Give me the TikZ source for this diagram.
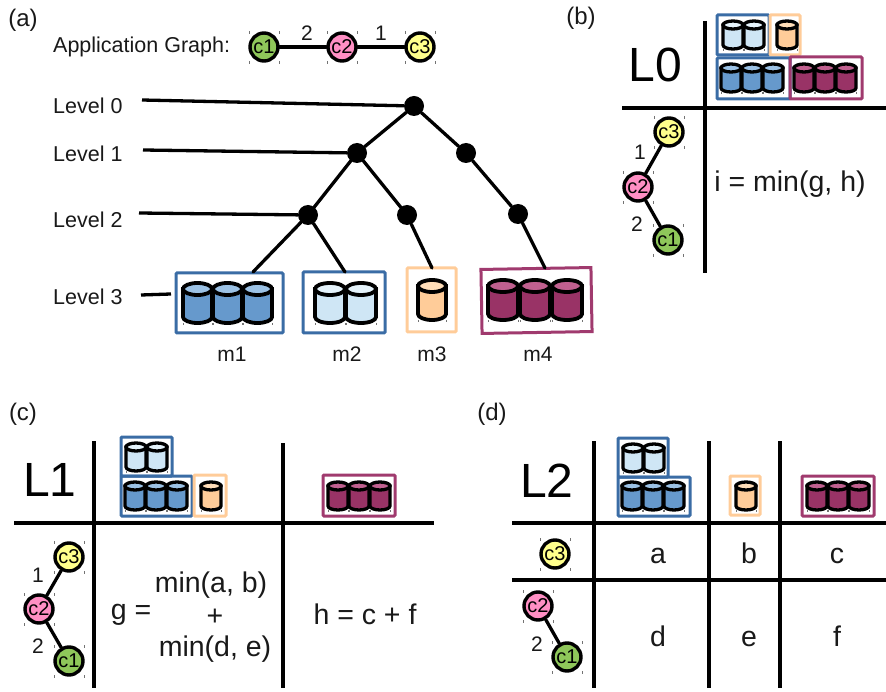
\documentclass[tikz,border=0pt]{standalone}
\usepackage{fontspec}
\setmainfont{Liberation Sans}
\definecolor{cblue}{HTML}{6699CC}\definecolor{tblue}{HTML}{9CC2E5}
\definecolor{clight}{HTML}{CFE6F5}\definecolor{tlight}{HTML}{E4F2FA}
\definecolor{corange}{HTML}{FFCC99}\definecolor{torange}{HTML}{FFDDB8}
\definecolor{cmaroon}{HTML}{993366}\definecolor{tmaroon}{HTML}{C0608F}
\definecolor{bblue}{HTML}{3A6CA5}\definecolor{borange}{HTML}{FFCC99}\definecolor{bmaroon}{HTML}{A03A6E}
\definecolor{cgreen}{HTML}{8FC75A}\definecolor{cpink}{HTML}{FF8FC4}\definecolor{cyellow}{HTML}{FFFF8C}
\tikzset{
  x=1pt,y=-1pt,
  wire/.style={line width=3.3pt,line cap=round,black},
  rule/.style={line width=3.1pt,black},
  dot/.style={circle,fill=black,minimum size=20pt,inner sep=0pt},
  lab/.style={inner sep=0pt,font=\fontsize{21.5}{22}\selectfont,text=black!90},
  small/.style={inner sep=0pt,font=\fontsize{21}{21}\selectfont,text=black!90},
  big/.style={inner sep=0pt,font=\fontsize{48}{48}\selectfont},
  eq/.style={inner sep=0pt,font=\fontsize{28.5}{29}\selectfont,text=black!90},
  panel/.style={inner sep=0pt,font=\fontsize{24}{24}\selectfont,text=black!90},
  tick/.style={line width=0.6pt,black!55},
  comp/.style={circle,draw=black,line width=3.4pt,minimum size=28pt,inner sep=0pt,font=\fontsize{20}{20}\selectfont},
}
% box: name, x1, y1, x2, y2, colour, width
\newcommand{\bx}[7]{%
  \pgfmathsetmacro{\bw}{#4-#2}\pgfmathsetmacro{\bh}{#5-#3}%
  \node[draw=#6,line width=#7pt,rounded corners=1pt,minimum width=\bw pt,minimum height=\bh pt,inner sep=0pt] (#1) at ({(#2+#4)/2},{(#3+#5)/2}) {};}
% cylinder: x1, x2, y1, y2, colour, line width, ellipse half-height
\newcommand{\cyl}[7]{%
  \pgfmathsetmacro{\rx}{(#2-(#1))/2}%
  \draw[line width=#6pt,fill=c#5] ({#1},{#3+#7}) -- ({#1},{#4-#7}) arc[start angle=180,end angle=0,x radius=\rx,y radius=#7] -- ({#2},{#3+#7}) -- cycle;
  \draw[line width=#6pt,fill=t#5] ({#1+\rx},{#3+#7}) ellipse[x radius=\rx,y radius=#7];
  \draw[tick] ({#1},{#4}) -- +(0,2) ({#2},{#4}) -- +(0,2);}
% small cylinder row: first left x, top y, count, colour
\newcommand{\srow}[4]{%
  \foreach \k in {1,...,#3}{\cyl{#1+(\k-1)*21}{#1+(\k-1)*21+20}{#2}{#2+28}{#4}{3.3}{4}}}
% component: name, x, y, colour, text
\newcommand{\cmp}[5]{%
  \node[comp,fill=#4] (#1) at (#2,#3) {#5};
  \draw[tick] ({#2-15},{#3-16}) -- +(0,3) ({#2+15},{#3-16}) -- +(0,3) ({#2-15},{#3+14}) -- +(0,3) ({#2+15},{#3+14}) -- +(0,3);}
\begin{document}
\begin{tikzpicture}
\useasboundingbox (0,0) rectangle (886,692);
% ---------- (a)
\node[panel] (la) at (23,20) {(a)};
\node[lab,anchor=west] (appg) at (53,47) {Application Graph:};
\cmp{ga}{264}{47}{cgreen}{c1}
\cmp{gb}{342}{47}{cpink}{c2}
\cmp{gc}{420}{47}{cyellow}{c3}
\draw[wire] (ga) -- (gb);
\draw[wire] (gb) -- (gc);
\node[small] (w2) at (307,33) {2};
\node[small] (w1) at (381,33) {1};
\node[lab,anchor=west] (lv0) at (53,106) {Level 0};
\node[lab,anchor=west] (lv1) at (53,154) {Level 1};
\node[lab,anchor=west] (lv2) at (53,220) {Level 2};
\node[lab,anchor=west] (lv3) at (53,297) {Level 3};
\node[dot] (n0) at (414,106) {};
\node[dot] (n1) at (357,153) {};
\node[dot] (n1b) at (466,153) {};
\node[dot] (n2) at (308,215) {};
\node[dot] (n2b) at (407,215) {};
\node[dot] (n2c) at (518,214) {};
\bx{m1}{176}{273}{283}{333}{bblue}{3}
\bx{m2}{303}{272}{385}{333}{bblue}{3}
\bx{m3}{407}{268}{456}{332}{borange}{3}
\node[draw=bmaroon,line width=3pt,minimum width=110pt,minimum height=64pt,inner sep=0pt,rotate=1] (m4) at (536.5,300.5) {};
\coordinate (e0) at (142,100); \coordinate (e1) at (143,150); \coordinate (e2) at (139,213); \coordinate (e3) at (141,295);
\coordinate (t1) at (253,272); \coordinate (t2) at (345,272); \coordinate (t3) at (432,268); \coordinate (t4) at (545,268); \coordinate (t5) at (171,294);
\draw[wire,line cap=butt] (e0) -- (n0);
\draw[wire,line cap=butt] (e1) -- (n1);
\draw[wire,line cap=butt] (e2) -- (n2);
\draw[wire,line cap=butt] (e3) -- (t5);
\draw[wire] (n0) -- (n1); \draw[wire] (n0) -- (n1b);
\draw[wire] (n1) -- (n2); \draw[wire] (n1) -- (n2b);
\draw[wire] (n1b) -- (n2c);
\draw[wire] (n2) -- (t1); \draw[wire] (n2) -- (t2);
\draw[wire] (n2b) -- (t3); \draw[wire] (n2c) -- (t4);
\foreach \a in {183,213,243}{\cyl{\a}{\a+29}{283}{323}{blue}{3.8}{6}}
\foreach \a in {315,346}{\cyl{\a}{\a+30}{283}{323}{light}{3.8}{6}}
\cyl{418}{446}{280}{320}{orange}{3.8}{6}
\foreach \a in {488,520,552}{\cyl{\a}{\a+30}{280}{320}{maroon}{3.8}{6}}
\node[small] (lm1) at (232,354) {m1};
\node[small] (lm2) at (347,354) {m2};
\node[small] (lm3) at (432,354) {m3};
\node[small] (lm4) at (538,354) {m4};
% ---------- (b)
\node[panel] (lb) at (581,18) {(b)};
\node[big] (L0) at (655,65) {L0};
\coordinate (bv1) at (705,21); \coordinate (bv2) at (705,273); \coordinate (bh1) at (622,108); \coordinate (bh2) at (886,108);
\draw[rule] (bv1) -- (bv2); \draw[rule] (bh1) -- (bh2);
\bx{b1}{717}{15}{769}{55}{bblue}{3}
\bx{b2}{770}{15}{800}{55}{borange}{3}
\bx{b3}{717}{58}{790}{99}{bblue}{3}
\bx{b4}{790}{57}{862}{99}{bmaroon}{3}
\srow{723}{21}{2}{light}
\srow{777}{21}{1}{orange}
\srow{721}{64}{3}{blue}
\srow{794}{64}{3}{maroon}
\cmp{bc}{669}{132}{cyellow}{c3}
\cmp{bb}{638}{187}{cpink}{c2}
\cmp{ba}{668}{240}{cgreen}{c1}
\draw[wire] (bc) -- (bb); \draw[wire] (bb) -- (ba);
\node[small] (b1l) at (640,152) {1};
\node[small] (b2l) at (637,224) {2};
\node[eq] (bi) at (790,184) {i = min(g, h)};
% ---------- (c)
\node[panel] (lc) at (23,414) {(c)};
\node[big] (L1) at (50,480) {L1};
\coordinate (cv1) at (94,441); \coordinate (cv2) at (94,688); \coordinate (cv3) at (283,443); \coordinate (cv4) at (283,688);
\coordinate (ch1) at (14,523); \coordinate (ch2) at (434,523);
\draw[rule] (cv1) -- (cv2); \draw[rule] (cv3) -- (cv4); \draw[rule] (ch1) -- (ch2);
\bx{c1x}{121}{437}{172}{476}{bblue}{3}
\bx{c2x}{121}{476}{192}{516}{bblue}{3}
\bx{c3x}{194}{475}{226}{516}{borange}{3}
\bx{c4x}{323}{475}{395}{516}{bmaroon}{3}
\srow{126}{443}{2}{light}
\srow{125}{482}{3}{blue}
\srow{201}{482}{1}{orange}
\srow{328}{482}{3}{maroon}
\cmp{cc}{69}{557}{cyellow}{c3}
\cmp{cb}{39}{609}{cpink}{c2}
\cmp{ca}{69}{661}{cgreen}{c1}
\draw[wire] (cc) -- (cb); \draw[wire] (cb) -- (ca);
\node[small] (c1l) at (38,575) {1};
\node[small] (c2l) at (38,646) {2};
\node[eq] (cg) at (131,615) {g =};
\node[eq] (cm1) at (211,585) {min(a, b)};
\node[eq] (cp) at (215,617) {+};
\node[eq] (cm2) at (215,649) {min(d, e)};
\node[eq] (chh) at (365,614) {h = c + f};
% ---------- (d)
\node[panel] (ld) at (492,414) {(d)};
\node[big] (L2) at (547,481) {L2};
\coordinate (dv1) at (594,441); \coordinate (dv2) at (594,688);
\coordinate (dv3) at (709,441); \coordinate (dv4) at (709,688);
\coordinate (dv5) at (780,441); \coordinate (dv6) at (780,688);
\coordinate (dh1) at (512,523); \coordinate (dh2) at (886,523);
\coordinate (dh3) at (512,580); \coordinate (dh4) at (886,580);
\draw[rule] (dv1) -- (dv2); \draw[rule] (dv3) -- (dv4); \draw[rule] (dv5) -- (dv6);
\draw[rule] (dh1) -- (dh2); \draw[rule] (dh3) -- (dh4);
\bx{d1x}{618}{438}{668}{477}{bblue}{3}
\bx{d2x}{618}{477}{690}{516}{bblue}{3}
\bx{d3x}{730}{476}{760}{515}{borange}{3}
\bx{d4x}{802}{476}{874}{516}{bmaroon}{3}
\srow{623}{444}{2}{light}
\srow{622}{482}{3}{blue}
\srow{736}{482}{1}{orange}
\srow{807}{482}{3}{maroon}
\cmp{dc}{555}{554}{cyellow}{c3}
\cmp{db}{538}{606}{cpink}{c2}
\cmp{da}{567}{657}{cgreen}{c1}
\draw[wire] (db) -- (da);
\node[small] (d2l) at (537,644) {2};
\foreach \nm/\tx/\px/\py in {ta/a/658/563,tb/b/749/563,tc/c/837/563,td/d/658/646,te/e/749/646,tf/f/837/646}
  \node[eq,anchor=base] (\nm) at (\px,\py) {\tx};
\end{tikzpicture}
\end{document}
